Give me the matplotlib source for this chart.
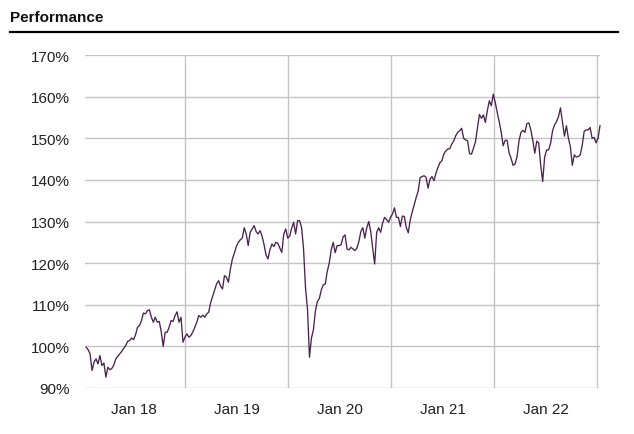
import matplotlib
matplotlib.use('Agg')
import matplotlib.pyplot as plt
from matplotlib.lines import Line2D
from matplotlib.ticker import FuncFormatter
import pandas as pd

# weekly performance values (%), starting mid-July 2017
perf = [
    99.8, 99.2, 98.2, 94.2, 96.2, 97.0, 95.8, 97.8, 95.4, 96.0,
    92.6, 95.0, 94.4, 94.7, 95.5, 97.0, 97.6, 98.2, 98.8, 99.5,
    100.2, 101.2, 101.4, 102.0, 101.6, 102.8, 104.6, 105.0, 106.2, 108.0,
    107.8, 108.6, 108.8, 107.0, 105.8, 107.0, 105.8, 106.0, 103.5, 100.0,
    103.4, 103.4, 104.6, 106.2, 106.0, 107.4, 108.3, 105.8, 107.0, 101.0,
    102.2, 103.0, 102.2, 102.6, 103.5, 104.6, 105.8, 107.4, 107.0, 107.5,
    107.0, 107.8, 108.2, 110.5, 112.0, 113.5, 115.0, 115.8, 114.5, 113.8,
    117.0, 116.6, 115.4, 118.6, 121.0, 122.4, 124.0, 125.0, 125.6, 126.0,
    128.5, 127.0, 124.2, 127.4, 128.2, 129.0, 127.6, 127.0, 127.8, 126.5,
    124.5, 122.0, 121.0, 123.2, 124.6, 124.0, 125.0, 124.8, 123.6, 122.6,
    127.0, 128.2, 126.0, 126.5, 128.4, 129.8, 127.0, 130.2, 130.2, 128.6,
    123.5, 114.0, 109.0, 97.4, 102.0, 104.0, 108.5, 110.8, 111.5, 113.6,
    114.8, 115.0, 118.0, 120.0, 123.2, 125.0, 122.5, 124.2, 124.2, 124.4,
    126.3, 126.8, 123.4, 123.2, 123.8, 123.4, 123.0, 123.6, 125.2, 127.6,
    128.5, 126.0, 128.5, 130.0, 127.6, 123.5, 119.8, 127.4, 128.5, 127.4,
    129.6, 131.0, 130.5, 129.8, 131.0, 131.8, 133.3, 131.0, 131.0, 128.8,
    131.3, 131.2, 128.5, 127.3, 130.4, 132.3, 134.0, 135.8, 137.3, 140.5,
    140.8, 141.0, 140.6, 138.0, 140.2, 140.8, 139.8, 141.6, 143.0, 144.1,
    144.6, 146.2, 147.0, 147.4, 147.5, 148.6, 149.4, 150.6, 151.4, 151.8,
    152.4, 150.0, 149.6, 149.4, 146.3, 146.2, 147.6, 149.2, 152.5, 155.7,
    154.8, 155.6, 153.8, 156.6, 159.0, 157.8, 160.6, 158.6, 156.2, 154.0,
    151.5, 148.2, 149.5, 149.5, 146.5, 145.2, 143.5, 143.8, 145.5, 149.3,
    151.4, 151.9, 151.4, 153.5, 153.7, 152.0, 149.5, 146.4, 149.3, 148.8,
    143.5, 139.6, 145.5, 147.2, 147.2, 148.8, 151.8, 153.2, 154.0, 155.2,
    157.3, 153.9, 150.5, 153.0, 150.0, 148.0, 143.5, 146.0, 145.5, 145.6,
    146.0, 148.3, 151.7, 152.0, 152.0, 152.6, 150.0, 150.2, 148.9, 150.0,
    153.0,
]
dates = pd.date_range('2017-07-17', periods=len(perf), freq='7D')

grid_dates = pd.to_datetime(['2018-07-01', '2019-07-01', '2020-07-01', '2021-07-01', '2022-07-01'])
label_dates = pd.to_datetime(['2018-01-01', '2019-01-01', '2020-01-01', '2021-01-01', '2022-01-01'])
label_text = ['Jan 18', 'Jan 19', 'Jan 20', 'Jan 21', 'Jan 22']
y_ticks = [90, 100, 110, 120, 130, 140, 150, 160, 170]

plt.rcParams['font.family'] = ['Liberation Sans', 'DejaVu Sans']

fig = plt.figure(figsize=(6.34, 4.35), dpi=100)
ax = fig.add_axes([85 / 634, 1 - 389 / 435, 515 / 634, 333 / 435])

ax.plot(dates, perf, color='#4b2350', linewidth=0.95, clip_on=False)

ax.set_ylim(90, 170)
ax.set_yticks(y_ticks)
ax.yaxis.set_major_formatter(FuncFormatter(lambda v, p: f'{v:.0f}%'))
ax.set_xlim(pd.Timestamp('2017-07-13'), pd.Timestamp('2022-07-11'))

ax.set_xticks(grid_dates)
ax.set_xticklabels([])
ax.set_xticks(label_dates, minor=True)
ax.set_xticklabels(label_text, minor=True)

ax.grid(True, which='major', color='#c4c4c4', linewidth=1.0)
ax.tick_params(axis='both', which='both', length=0, labelsize=11, colors='#222222')
ax.tick_params(axis='y', pad=11)
ax.tick_params(axis='x', which='minor', pad=10)
for s in ax.spines.values():
    s.set_visible(False)

fig.text(10 / 634, 1 - 18 / 435, 'Performance', fontsize=11, fontweight='bold',
         va='center', ha='left', color='#111111')
fig.add_artist(Line2D([10 / 634, 618 / 634], [1 - 32.5 / 435, 1 - 32.5 / 435],
                      color='black', linewidth=1.6))

fig.savefig('out.png', dpi=100)
